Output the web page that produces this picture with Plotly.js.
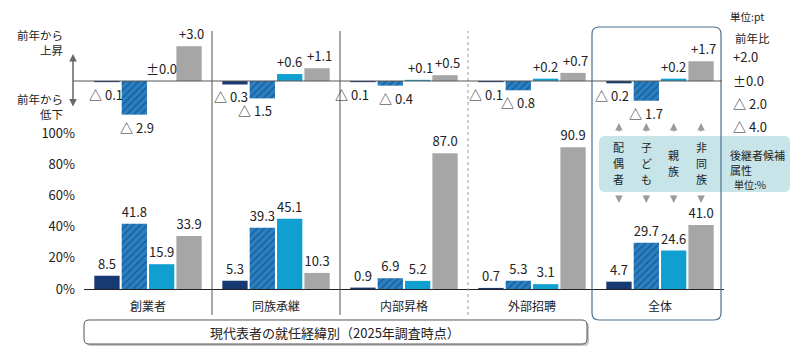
<!DOCTYPE html>
<html>
<head>
<meta charset="utf-8">
<script src="https://cdn.plot.ly/plotly-3.0.1.min.js"></script>
<style>html,body{margin:0;padding:0;background:#fff;}#chart{width:806px;height:363px;}</style>
</head>
<body>
<div id="chart"></div>
<script>
// ---- data ----
const categories = ['創業者', '同族承継', '内部昇格', '外部招聘', '全体'];
const seriesNames = ['配偶者', '子ども', '親族', '非同族'];
// share (%) of successor candidate attribute
const shareSpouse    = [8.5, 5.3, 0.9, 0.7, 4.7];
const shareChild     = [41.8, 39.3, 6.9, 5.3, 29.7];
const shareRelative  = [15.9, 45.1, 5.2, 3.1, 24.6];
const shareNonFamily = [33.9, 10.3, 87.0, 90.9, 41.0];
// year-on-year change (pt)
const changeSpouse    = [-0.1, -0.3, -0.1, -0.1, -0.2];
const changeChild     = [-2.9, -1.5, -0.4, -0.8, -1.7];
const changeRelative  = [0.0, 0.6, 0.1, 0.2, 0.2];
const changeNonFamily = [3.0, 1.1, 0.5, 0.7, 1.7];
const changeTickVals = [2, 0, -2, -4];
const shareTickVals = [0, 20, 40, 60, 80, 100];
const titleText = '現代表者の就任経緯別（2025年調査時点）';

// ---- layout helpers ----
const W = 806, H = 363;
const px = x => x / W;
const py = y => 1 - y / H;
const FONT = '"Noto Sans CJK JP", "Noto Sans", sans-serif';
const fmtChange = v => v > 0 ? '+' + v.toFixed(1) : (v < 0 ? '△ ' + Math.abs(v).toFixed(1) : '±0.0');
const fmtShare = v => v.toFixed(1);

const colors = ['#173a72', '#2a80c2', '#0f9fd1', '#a6a6a6'];
const markers = [
  {color: colors[0]},
  {color: colors[1], pattern: {shape: '/', fgcolor: '#1b5e98', bgcolor: '#2a80c2', size: 5, solidity: 0.3, fillmode: 'replace'}},
  {color: colors[2]},
  {color: colors[3]}
];
const shareSeries = [shareSpouse, shareChild, shareRelative, shareNonFamily];
const changeSeries = [changeSpouse, changeChild, changeRelative, changeNonFamily];
// horizontal label nudges (px) for the change labels, per series
const changeLabelNudge = [
  [-1, -4, -11, -5, -7],
  [3, -7, 6, 0, 0],
  [0, 0, 3, 0, 0],
  [2, 2, 2, 2, 2]
];

const bargap = 0.145;
const slot = (1 - bargap) / 4;
const traces = [];
shareSeries.forEach((vals, i) => {
  traces.push({
    type: 'bar', x: categories, y: vals, name: seriesNames[i],
    xaxis: 'x', yaxis: 'y',
    marker: Object.assign({line: {width: 0}}, markers[i]),
    text: vals.map(fmtShare), textposition: 'outside', cliponaxis: false,
    constraintext: 'none',
    textfont: {family: FONT, size: 13, color: '#222'},
    hoverinfo: 'skip', showlegend: false
  });
});
changeSeries.forEach((vals, i) => {
  traces.push({
    type: 'bar', x: categories, y: vals, name: seriesNames[i],
    xaxis: 'x', yaxis: 'y2',
    marker: Object.assign({line: {width: 0}}, markers[i]),
    cliponaxis: false,
    hoverinfo: 'skip', showlegend: false
  });
});

function roundRect(x0, y0, x1, y1, r) {
  const P = (x, y) => px(x).toFixed(5) + ',' + py(y).toFixed(5);
  return 'M' + P(x0 + r, y0) + ' L' + P(x1 - r, y0) + ' Q' + P(x1, y0) + ' ' + P(x1, y0 + r) +
    ' L' + P(x1, y1 - r) + ' Q' + P(x1, y1) + ' ' + P(x1 - r, y1) +
    ' L' + P(x0 + r, y1) + ' Q' + P(x0, y1) + ' ' + P(x0, y1 - r) +
    ' L' + P(x0, y0 + r) + ' Q' + P(x0, y0) + ' ' + P(x0 + r, y0) + ' Z';
}

const shapes = [];
shapes.push({type: 'path', xref: 'paper', yref: 'paper', path: roundRect(599, 136, 790, 192, 6),
  fillcolor: '#c7e5e9', line: {width: 0}, layer: 'below'});
[0.5, 1.5, 2.5].forEach((b, i) => {
  shapes.push({type: 'line', xref: 'x', yref: 'paper', x0: b, x1: b, y0: py(315), y1: py(31),
    line: i === 2 ? {color: '#aaaaaa', width: 1.2, dash: 'dot'} : {color: '#555', width: 1}});
});
shapes.push({type: 'path', xref: 'paper', yref: 'paper', path: roundRect(592, 27, 721, 320, 7),
  fillcolor: 'rgba(0,0,0,0)', line: {color: '#4d6f8f', width: 1.2}, layer: 'above'});
shapes.push({type: 'line', xref: 'paper', yref: 'y2', x0: px(73), x1: px(722), y0: 0, y1: 0,
  line: {color: '#555', width: 1}});
shapes.push({type: 'path', xref: 'paper', yref: 'paper', path: roundRect(86, 322, 589, 346, 5),
  fillcolor: '#c4c4c4', line: {width: 0}});
shapes.push({type: 'path', xref: 'paper', yref: 'paper', path: roundRect(84, 320, 587, 344, 5),
  fillcolor: '#ffffff', line: {color: '#555', width: 1}});

const annotations = [];
const txt = (text, x, y, size, opts) => Object.assign({xref: 'paper', yref: 'paper', x: px(x), y: py(y),
  text: text, showarrow: false, font: {family: FONT, size: size, color: '#222'}}, opts || {});
annotations.push(txt('前年から<br>上昇', 65, 42.5, 11.5, {xanchor: 'right', yanchor: 'middle', align: 'right'}));
annotations.push(txt('前年から<br>低下', 65, 106, 11.5, {xanchor: 'right', yanchor: 'middle', align: 'right'}));
annotations.push({xref: 'paper', yref: 'paper', x: px(73), y: py(54), ax: 0, ay: 54, text: '',
  showarrow: true, arrowhead: 2, startarrowhead: 2, arrowside: 'end+start', arrowsize: 1,
  arrowwidth: 1.5, arrowcolor: '#666'});
annotations.push(txt('単位:pt', 728, 16, 10.5, {xanchor: 'left', yanchor: 'middle'}));
annotations.push(txt('前年比', 733, 38, 11.5, {xanchor: 'left', yanchor: 'middle'}));
annotations.push(txt('<span style="font-size:11px">後継者候補</span><br><span style="font-size:11px">属性</span>',
  728, 162.5, 11.5, {xanchor: 'left', yanchor: 'middle', align: 'left'}));
annotations.push(txt('単位:%', 732, 184, 10, {xanchor: 'left', yanchor: 'middle'}));
annotations.push(txt(titleText, 335, 332, 13, {xanchor: 'center', yanchor: 'middle'}));

// change labels (top chart)
changeSeries.forEach((vals, i) => {
  vals.forEach((v, c) => {
    annotations.push({xref: 'x', yref: 'y2', x: c + (i - 1.5) * slot, y: v, text: fmtChange(v),
      showarrow: false, xanchor: 'center', yanchor: 'middle',
      xshift: changeLabelNudge[i][c], yshift: v < 0 ? -12.5 : 12.5,
      font: {family: FONT, size: 13, color: '#222'}});
  });
});

// legend: vertical labels and arrows at the bar positions of 全体
const lastIdx = categories.length - 1;
const charStep = 16.5;
seriesNames.forEach((name, i) => {
  const xpos = lastIdx + (i - 1.5) * slot;
  const chars = name.split('');
  const start = 163 - (chars.length - 1) * charStep / 2;
  chars.forEach((ch, k) => {
    annotations.push({xref: 'x', yref: 'paper', x: xpos, y: py(start + k * charStep), text: ch,
      showarrow: false, xanchor: 'center', yanchor: 'middle', borderpad: 0,
      font: {family: FONT, size: 11, color: '#222'}});
  });
  annotations.push({xref: 'x', yref: 'paper', x: xpos, y: py(123), ax: 0, ay: 10, text: '',
    showarrow: true, arrowhead: 2, arrowsize: 1, arrowwidth: 1.5, arrowcolor: '#9a9a9a'});
  annotations.push({xref: 'x', yref: 'paper', x: xpos, y: py(203), ax: 0, ay: -9, text: '',
    showarrow: true, arrowhead: 2, arrowsize: 1, arrowwidth: 1.5, arrowcolor: '#9a9a9a'});
});

const z = 81, ppt = 11.6;
const layout = {
  width: W, height: H,
  margin: {l: 0, r: 0, t: 0, b: 0},
  paper_bgcolor: '#fff', plot_bgcolor: 'rgba(0,0,0,0)',
  font: {family: FONT, size: 12, color: '#222'},
  barmode: 'group', bargap: bargap, bargroupgap: 0.075,
  showlegend: false,
  xaxis: {domain: [px(84), px(724)], anchor: 'y', type: 'category', showline: true, linecolor: '#222',
    linewidth: 1.2, ticks: '', showgrid: false, zeroline: false, ticklabelstandoff: 6,
    tickfont: {family: FONT, size: 12, color: '#222'}, fixedrange: true},
  yaxis: {domain: [py(289), py(133)], range: [0, 100], tickmode: 'array', tickvals: shareTickVals,
    ticktext: shareTickVals.map(v => v + '%'),
    showgrid: false, zeroline: false, showline: false, ticks: '', ticklabelstandoff: 8,
    tickfont: {family: FONT, size: 13, color: '#222'}, fixedrange: true},
  yaxis2: {domain: [py(129), py(30)], range: [-(129 - z) / ppt, (z - 30) / ppt], anchor: 'free',
    position: px(729), side: 'right', tickmode: 'array', tickvals: changeTickVals,
    ticktext: changeTickVals.map(fmtChange),
    showgrid: false, zeroline: false, showline: false, ticks: '', ticklabelstandoff: 3,
    tickfont: {family: FONT, size: 13, color: '#222'}, fixedrange: true},
  shapes: shapes,
  annotations: annotations
};

Plotly.newPlot('chart', traces, layout, {staticPlot: true, displayModeBar: false});
</script>
</body>
</html>
